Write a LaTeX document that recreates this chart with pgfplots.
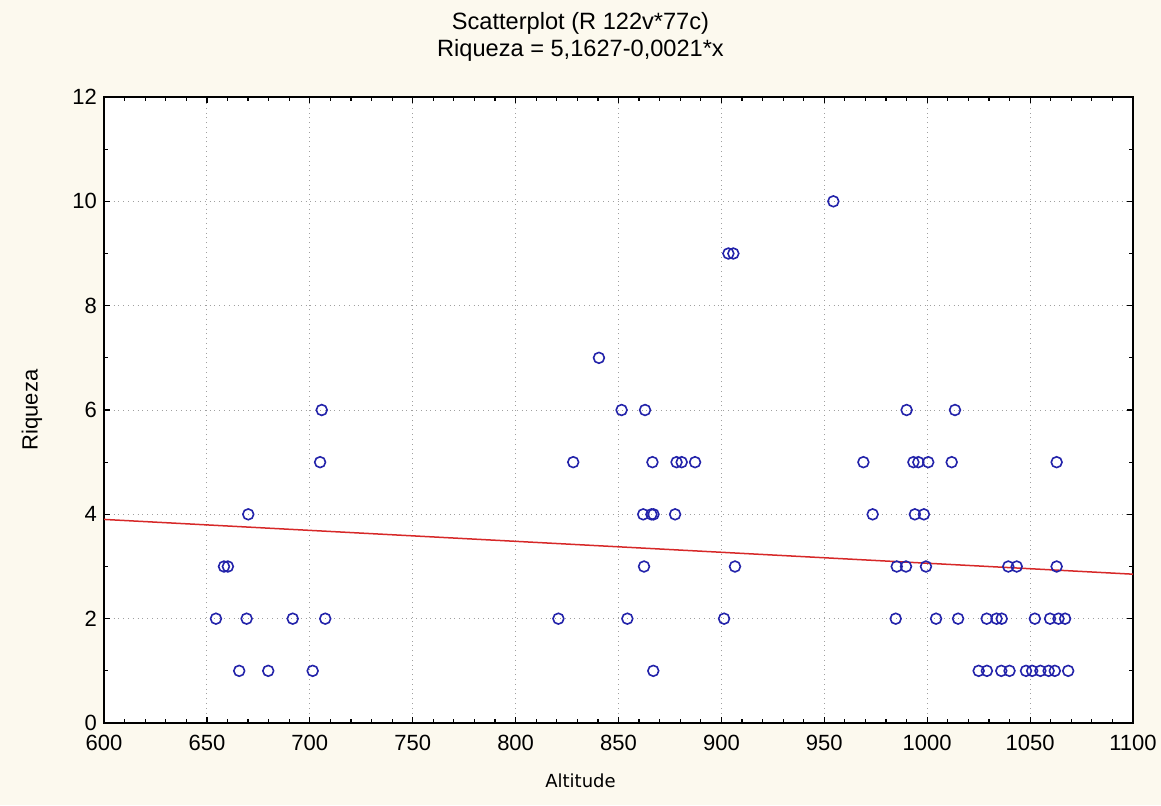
\documentclass[border=0pt]{standalone}
\usepackage{fontspec}
\setmainfont{Liberation Sans}
\newfontfamily\altfont{DejaVu Sans}
\usepackage{pgfplots}
\pgfplotsset{compat=1.18}
\definecolor{bgcream}{RGB}{252,249,238}
\definecolor{ptblue}{RGB}{35,35,170}
\definecolor{regred}{RGB}{215,40,40}
\definecolor{gridgray}{RGB}{160,160,160}
\begin{document}
\begin{tikzpicture}
\fill[bgcream] (-52pt,-41pt) rectangle (528.5pt,361.5pt);
\begin{axis}[
  at={(0,0)}, anchor=south west,
  scale only axis, width=514.5pt, height=313pt,
  xmin=600, xmax=1100, ymin=0, ymax=12,
  xtick={600,650,...,1100}, ytick={0,2,...,12},
  minor x tick num=4, minor y tick num=1,
  tick align=inside, xtick pos=both, ytick pos=both,
  major tick length=3pt, minor tick length=1.8pt,
  grid=major, major grid style={gridgray, dotted, line width=0.5pt},
  axis line style={line width=0.9pt, black},
  every tick/.style={black, line width=0.6pt},
  axis background/.style={fill=white},
  tick label style={font=\fontsize{11}{13}\selectfont},
  xticklabel style={yshift=-2.5pt},
  /pgf/number format/assume math mode=true,
  /pgf/number format/1000 sep={},
]
\addplot[only marks, mark=o, mark size=2.7pt, mark options={ptblue, line width=0.8pt}] coordinates {
(654.4,2) (658.3,3) (660.2,3) (665.7,1) (669.3,2) (670.1,4) (679.8,1) (691.7,2) (701.4,1) (705,5) (705.8,6) (707.5,2)
(820.8,2) (828,5) (840.5,7) (851.5,6) (854.3,2) (862.9,6) (862.4,3) (862,4) (866,4) (867,4) (866.5,5) (866.9,1) (877.5,4) (878.2,5) (880.7,5) (887.2,5) (901.3,2) (903.4,9) (905.8,9) (906.6,3) (954.4,10)
(990,6) (1013.5,6)
(969,5) (993.3,5) (995.7,5) (1000.5,5) (1011.9,5) (1062.9,5)
(973.5,4) (994,4) (998.4,4)
(985.2,3) (989.7,3) (999.4,3) (1039.4,3) (1043.5,3) (1062.9,3)
(984.7,2) (1004.3,2) (1015,2) (1028.9,2) (1033.7,2) (1036.2,2) (1052.3,2) (1059.7,2) (1063.8,2) (1067,2)
(1025,1) (1029,1) (1036,1) (1040,1) (1048,1) (1051,1) (1055,1) (1059,1) (1062,1) (1068.5,1)
};
\addplot[regred, line width=0.75pt] coordinates {(600,3.9027) (1100,2.8527)};
\end{axis}
\node[font=\fontsize{11.8}{14}\selectfont] at (238.25pt,350pt) {Scatterplot (R 122v*77c)};
\node[font=\fontsize{11.8}{14}\selectfont] at (238.25pt,336.5pt) {Riqueza = 5,1627-0,0021*x};
\node[font=\fontsize{11}{13}\selectfont, rotate=90] at (-36pt,156.5pt) {Riqueza};
\node[font=\altfont\fontsize{9}{11}\selectfont] at (238.25pt,-29pt) {Altitude};
\pgfresetboundingbox
\path[use as bounding box] (-52pt,-41pt) rectangle (528.5pt,361.5pt);
\end{tikzpicture}
\end{document}
